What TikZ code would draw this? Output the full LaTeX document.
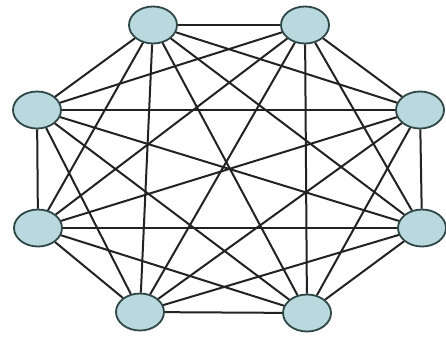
\documentclass[tikz,border=0pt]{standalone}
\usetikzlibrary{shapes.geometric}
\definecolor{nodefill}{HTML}{B9D9DF}
\definecolor{nodeline}{HTML}{2E4646}
\definecolor{edgecol}{HTML}{222222}
\begin{document}
\begin{tikzpicture}[x=1pt,y=-1pt,
  vert/.style={ellipse,draw=nodeline,fill=nodefill,line width=1.8pt,minimum width=48pt,minimum height=37pt,inner sep=0pt},
  edge/.style={draw=edgecol,line width=2pt}]
\useasboundingbox (0,0) rectangle (446,338);
\node[vert] (a) at (153,25) {};
\node[vert] (b) at (305,25) {};
\node[vert] (c) at (420,110) {};
\node[vert] (d) at (422,228) {};
\node[vert] (e) at (307,313) {};
\node[vert] (f) at (140,312) {};
\node[vert] (g) at (38,228) {};
\node[vert] (h) at (37,110) {};
\foreach \u/\v in {a/b,a/c,a/d,a/e,a/f,a/g,a/h,
                   b/c,b/d,b/e,b/f,b/g,b/h,
                   c/d,c/e,c/f,c/g,c/h,
                   d/e,d/f,d/g,d/h,
                   e/f,e/g,e/h,
                   f/g,f/h,
                   g/h}
  \draw[edge] (\u) -- (\v);
\end{tikzpicture}
\end{document}
